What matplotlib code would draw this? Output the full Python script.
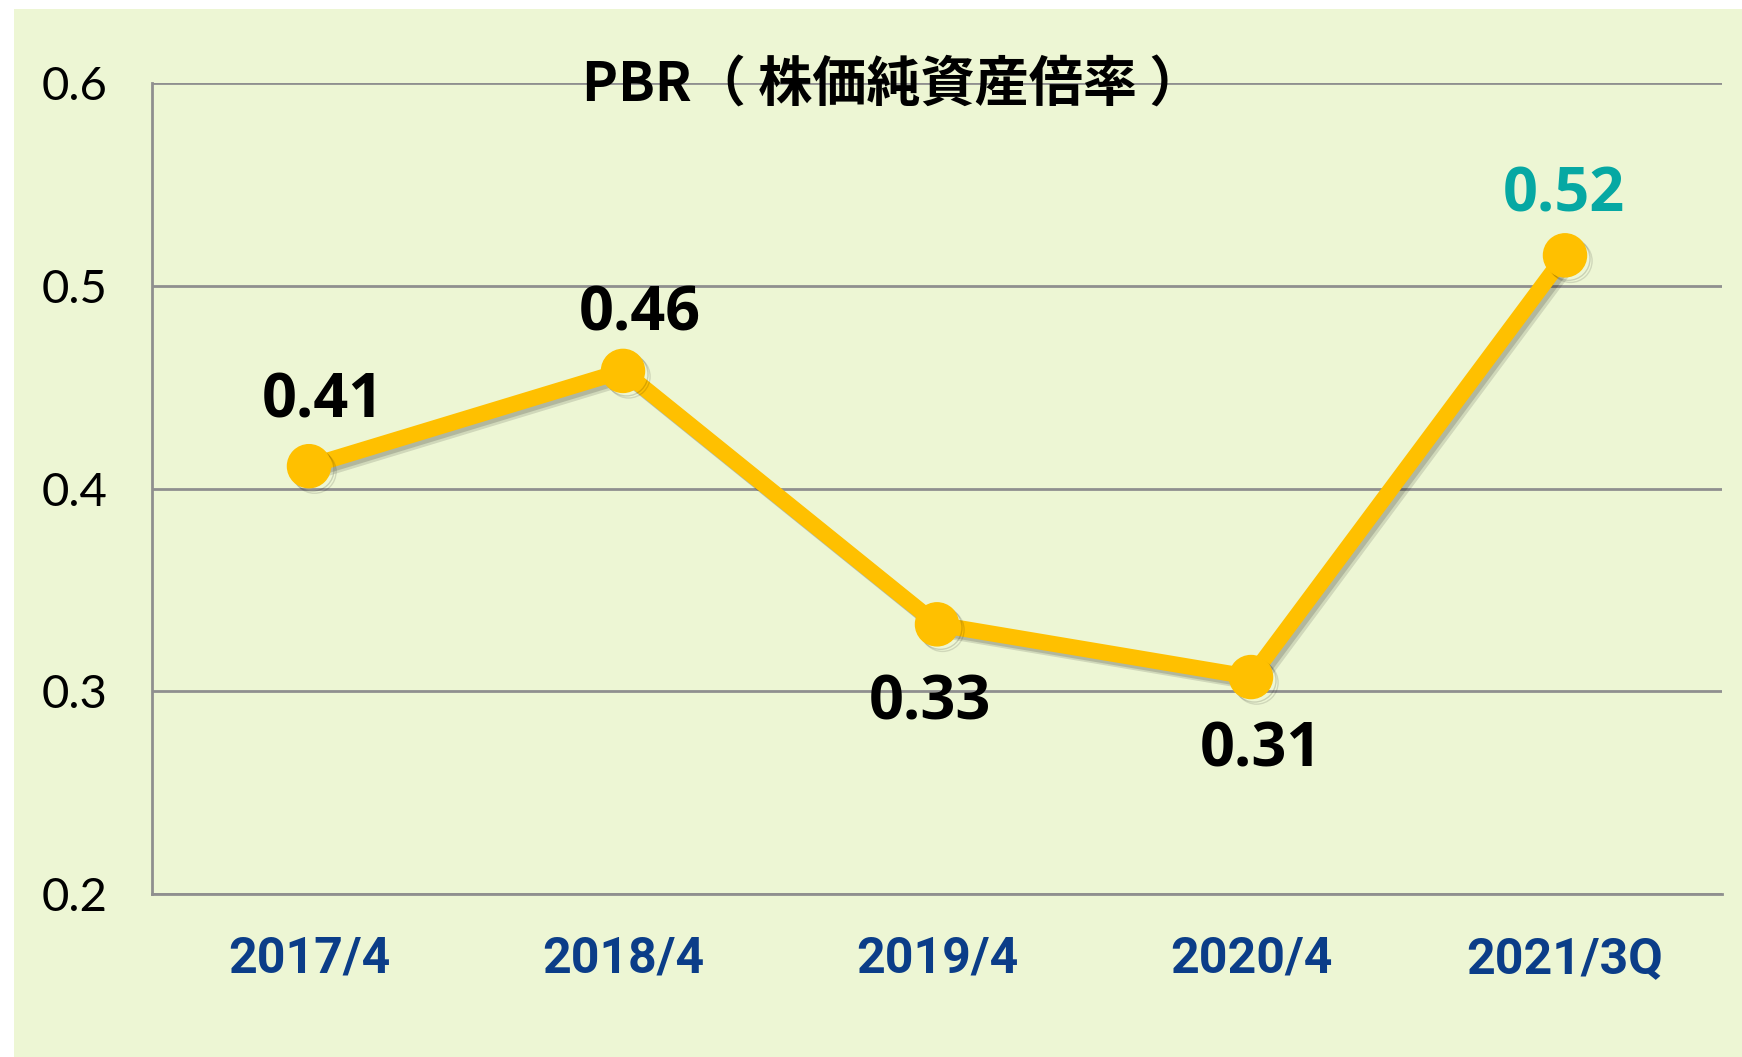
import matplotlib
matplotlib.use("Agg")
import matplotlib.pyplot as plt
import matplotlib.patheffects as pe
from matplotlib.patches import Rectangle

categories = ["2017/4", "2018/4", "2019/4", "2020/4", "2021/3Q"]
values = [0.411, 0.458, 0.333, 0.307, 0.515]
labels = ["0.41", "0.46", "0.33", "0.31", "0.52"]
label_colors = ["#000000", "#000000", "#000000", "#000000", "#06A8A3"]
yticks = [0.2, 0.3, 0.4, 0.5, 0.6]
title = "PBR（ 株価純資産倍率 ）"

# label offsets in points (style)
label_offsets = [(10, 46), (12, 40), (-5, -57), (7, -53), (-1, 43)]

fig = plt.figure(figsize=(17.42, 10.57), dpi=100)
fig.patch.set_facecolor("white")
bg = Rectangle((14 / 1742, 0), 1, 1 - 9 / 1057, transform=fig.transFigure,
               facecolor="#EDF6D4", edgecolor="none", zorder=-10)
fig.patches.append(bg)

ax = fig.add_axes([152 / 1742, 1 - 894 / 1057, (1722 - 152) / 1742, (894 - 83) / 1057])
ax.set_zorder(1)
ax.set_facecolor("none")
x = list(range(len(categories)))
ax.set_xlim(-0.5, len(categories) - 0.5)
ax.set_ylim(0.2, 0.6)
ax.set_yticks(yticks)
ax.set_yticklabels([f"{t:.1f}" for t in yticks])
ax.set_xticks(x)
ax.set_xticklabels(categories)

ax.grid(axis="y", color="#8F8F8F", linewidth=2)
ax.set_axisbelow(True)
for s in ["top", "right"]:
    ax.spines[s].set_visible(False)
for s in ["left", "bottom"]:
    ax.spines[s].set_color("#8F8F8F")
    ax.spines[s].set_linewidth(2)

ax.tick_params(axis="both", length=0)
ax.tick_params(axis="y", pad=32)
ax.tick_params(axis="x", pad=30)
for t in ax.get_yticklabels():
    t.set_fontfamily(["Lato", "DejaVu Sans"])
    t.set_fontweight("normal")
    t.set_fontsize(34)
    t.set_color("black")
for t in ax.get_xticklabels():
    t.set_fontfamily(["Liberation Sans Narrow", "Roboto", "DejaVu Sans"])
    t.set_fontweight("bold")
    t.set_fontsize(36)
    t.set_color("#0B3D88")

ax.plot(x, values, color="#FFC000", linewidth=11.5, marker="o", markersize=31,
        solid_capstyle="round", zorder=3,
        path_effects=[pe.SimpleLineShadow(offset=(4, -4), shadow_color="black", alpha=0.12),
                      pe.SimpleLineShadow(offset=(2.5, -2.5), shadow_color="black", alpha=0.15),
                      pe.Normal()])

for xi, v, lab, off, c in zip(x, values, labels, label_offsets, label_colors):
    ax.annotate(lab, (xi, v), xytext=off, textcoords="offset points",
                ha="center", va="center", fontsize=44, fontweight="bold",
                family=["Open Sans", "DejaVu Sans"], color=c, zorder=5)

fig.text(893 / 1742, 1 - 86 / 1057, title, ha="center", va="center", fontsize=39,
         fontweight="bold", family=["Noto Sans CJK JP", "DejaVu Sans"], color="black",
         zorder=5)

fig.savefig("out.png", dpi=100, facecolor=fig.get_facecolor())
